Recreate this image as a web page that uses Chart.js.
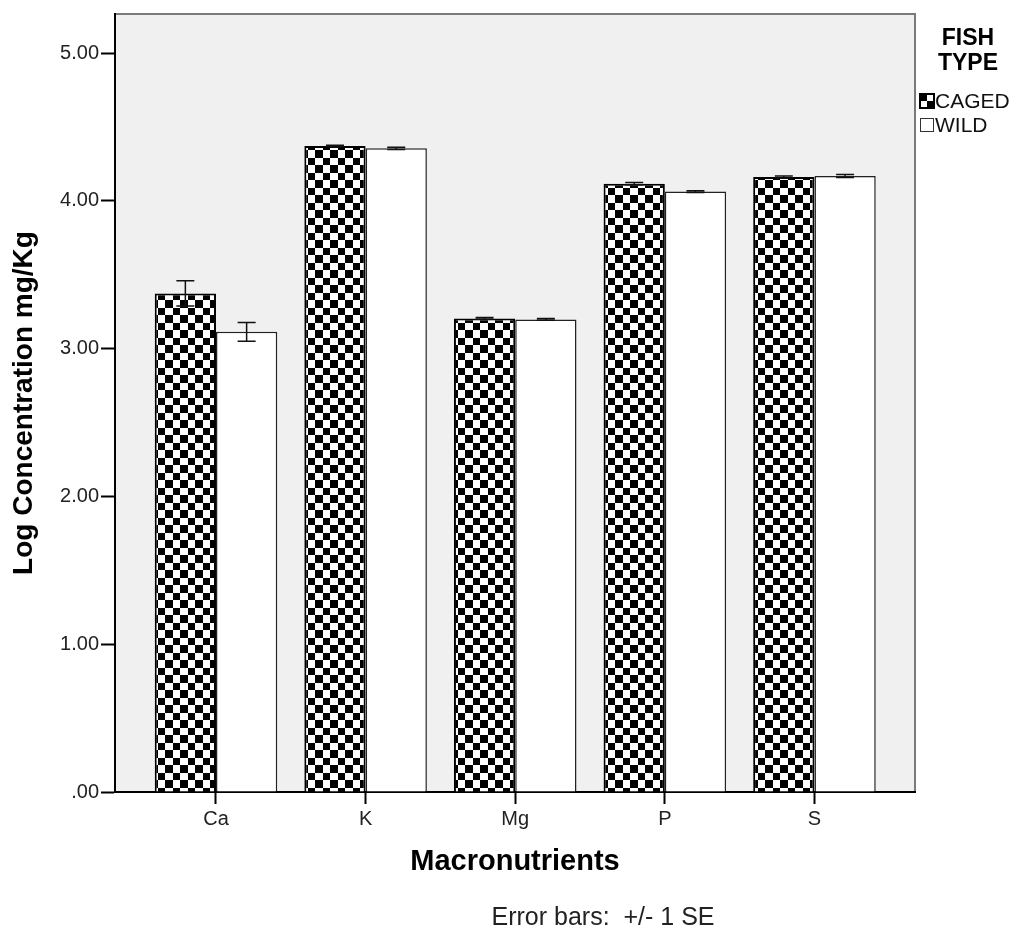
<!DOCTYPE html>
<html>
<head>
<meta charset="utf-8">
<script src="https://cdn.jsdelivr.net/npm/chart.js@4/dist/chart.umd.min.js"></script>
<style>
body { margin: 0; background: #fff; }
</style>
</head>
<body>
<canvas id="myChart" width="1020" height="934"></canvas>
<script>
var nutrients = ["Ca", "K", "Mg", "P", "S"];
var caged = [3.374, 4.372, 3.205, 4.117, 4.162];
var wild = [3.114, 4.356, 3.198, 4.063, 4.169];
var cagedSE = [0.085, 0.005, 0.006, 0.008, 0.006];
var wildSE = [0.064, 0.008, 0.006, 0.006, 0.010];
var yTicks = [0, 1, 2, 3, 4, 5];
var seriesNames = ["CAGED", "WILD"];

var canvas = document.getElementById("myChart");
var mainCtx = canvas.getContext("2d");

// checkerboard fill, cells alternate 8/7 px so it averages 7.5
function checkerPattern() {
    var c = document.createElement("canvas");
    c.width = 30; c.height = 30;
    var g = c.getContext("2d");
    g.fillStyle = "#fff";
    g.fillRect(0, 0, 30, 30);
    g.fillStyle = "#000";
    var edges = [0, 8, 15, 23, 30];
    for (var i = 0; i < 4; i++) {
        for (var j = 0; j < 4; j++) {
            if ((i + j) % 2 == 0) g.fillRect(edges[i], edges[j], edges[i + 1] - edges[i], edges[j + 1] - edges[j]);
        }
    }
    return mainCtx.createPattern(c, "repeat");
}
var checker = checkerPattern();

function points(vals) {
    return vals.map(function (v, i) { return { x: i, y: v }; });
}

var background = {
    id: "background",
    beforeDraw: function (chart) {
        var ctx = chart.ctx, a = chart.chartArea;
        ctx.save();
        ctx.fillStyle = "#fff";
        ctx.fillRect(0, 0, chart.width, chart.height);
        ctx.fillStyle = "#f0f0f0";
        ctx.fillRect(a.left, a.top, a.right - a.left, a.bottom - a.top);
        ctx.strokeStyle = "#7a7a7a";
        ctx.lineWidth = 2;
        ctx.beginPath();
        ctx.moveTo(a.left, a.top);
        ctx.lineTo(a.right, a.top);
        ctx.lineTo(a.right, a.bottom);
        ctx.stroke();
        ctx.restore();
    }
};

var errorBars = {
    id: "errorBars",
    afterDatasetsDraw: function (chart) {
        var ctx = chart.ctx, y = chart.scales.y;
        ctx.save();
        ctx.strokeStyle = "#111";
        ctx.lineWidth = 1.5;
        [cagedSE, wildSE].forEach(function (se, d) {
            var meta = chart.getDatasetMeta(d);
            var vals = d == 0 ? caged : wild;
            meta.data.forEach(function (bar, i) {
                var top = y.getPixelForValue(vals[i] + se[i]);
                var bot = y.getPixelForValue(vals[i] - se[i]);
                ctx.beginPath();
                ctx.moveTo(bar.x, top); ctx.lineTo(bar.x, bot);
                ctx.moveTo(bar.x - 9, top); ctx.lineTo(bar.x + 9, top);
                ctx.moveTo(bar.x - 9, bot); ctx.lineTo(bar.x + 9, bot);
                ctx.stroke();
            });
        });
        ctx.restore();
    }
};

var sideNotes = {
    id: "sideNotes",
    afterDraw: function (chart) {
        var ctx = chart.ctx;
        ctx.save();
        ctx.fillStyle = "#000";
        ctx.textAlign = "center";
        ctx.textBaseline = "middle";
        ctx.font = "bold 23px 'Liberation Sans', Arial";
        ctx.fillText("FISH", 968, 39);
        ctx.fillText("TYPE", 968, 64);

        ctx.textAlign = "left";
        ctx.font = "21px 'Liberation Sans', Arial";
        ctx.fillStyle = "#111";
        ctx.fillText(seriesNames[0], 935, 102);
        ctx.fillText(seriesNames[1], 935, 126);

        // legend swatches
        ctx.fillStyle = "#fff";
        ctx.fillRect(920, 94, 14, 14);
        ctx.fillStyle = "#000";
        ctx.fillRect(920, 94, 7, 7);
        ctx.fillRect(927, 101, 7, 7);
        ctx.strokeStyle = "#000";
        ctx.lineWidth = 2;
        ctx.strokeRect(920, 94, 14, 14);
        ctx.fillStyle = "#fff";
        ctx.fillRect(920, 118, 14, 14);
        ctx.strokeStyle = "#333";
        ctx.lineWidth = 1;
        ctx.strokeRect(920.5, 118.5, 13, 13);

        ctx.textAlign = "center";
        ctx.fillStyle = "#222";
        ctx.font = "25px 'Liberation Sans', Arial";
        ctx.fillText("Error bars:  +/- 1 SE", 603, 918);
        ctx.restore();
    }
};

new Chart(canvas, {
    type: "bar",
    data: {
        datasets: [{
            label: seriesNames[0],
            data: points(caged),
            backgroundColor: checker,
            borderColor: "#000",
            borderWidth: 2
        }, {
            label: seriesNames[1],
            data: points(wild),
            backgroundColor: "#fff",
            borderColor: "#222",
            borderWidth: 1.5
        }]
    },
    options: {
        responsive: false,
        animation: false,
        categoryPercentage: 0.819,
        barPercentage: 1,
        layout: { padding: { left: 0, right: 105, top: 13, bottom: 0 } },
        plugins: {
            legend: { display: false },
            tooltip: { enabled: false }
        },
        scales: {
            x: {
                type: "linear",
                offset: false,
                min: -0.675,
                max: 4.672,
                afterBuildTicks: function (axis) {
                    axis.ticks = nutrients.map(function (n, i) { return { value: i }; });
                },
                afterFit: function (axis) { axis.height = 142; },
                ticks: {
                    padding: 3,
                    color: "#222",
                    font: { family: "'Liberation Sans', Arial", size: 20 },
                    callback: function (v) { return nutrients[v]; }
                },
                grid: { offset: false, drawOnChartArea: false, tickLength: 12, tickColor: "#000", tickWidth: 2 },
                border: { color: "#000", width: 2 },
                title: {
                    display: true,
                    text: "Macronutrients",
                    color: "#000",
                    font: { family: "'Liberation Sans', Arial", size: 29, weight: "bold" },
                    padding: { bottom: 55 }
                }
            },
            y: {
                min: 0,
                max: 5.265,
                afterBuildTicks: function (axis) {
                    axis.ticks = yTicks.map(function (v) { return { value: v }; });
                },
                afterFit: function (axis) { axis.width = 115; },
                ticks: {
                    padding: 2,
                    color: "#222",
                    font: { family: "'Liberation Sans', Arial", size: 20 },
                    callback: function (v) { return v === 0 ? ".00" : v.toFixed(2); }
                },
                grid: { drawOnChartArea: false, tickLength: 14, tickColor: "#000", tickWidth: 2 },
                border: { color: "#000", width: 2 },
                title: {
                    display: true,
                    text: "Log Concentration mg/Kg",
                    color: "#000",
                    font: { family: "'Liberation Sans', Arial", size: 28, weight: "bold" },
                    padding: { top: 7 }
                }
            }
        }
    },
    plugins: [background, errorBars, sideNotes]
});
</script>
</body>
</html>
